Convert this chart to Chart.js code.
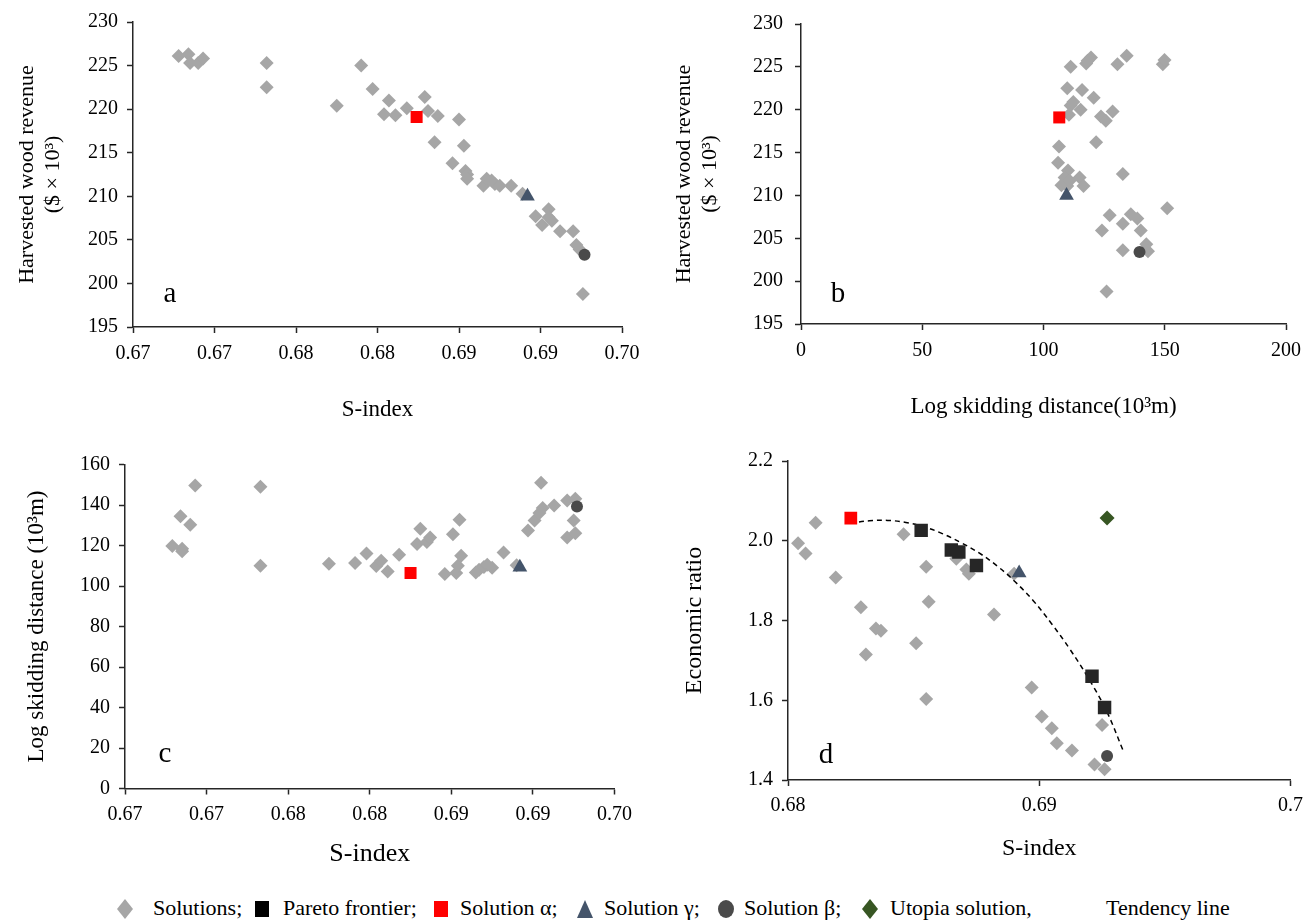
<!DOCTYPE html>
<html>
<head>
<meta charset="utf-8">
<script src="https://cdn.jsdelivr.net/npm/chart.js@4.4.1/dist/chart.umd.min.js"></script>
<style>
  html, body { margin: 0; padding: 0; background: #fff; overflow: hidden; }
  body { width: 1311px; height: 921px; position: relative; font-family: "Liberation Serif", "Times New Roman", serif; color: #000; }
  .panel { position: absolute; }
  .tag { position: absolute; font-size: 29px; line-height: 1; transform: translate(-50%, -50%); }
  .legend { position: absolute; left: 0; top: 894px; width: 1311px; height: 28px; font-size: 22px; }
  .legend span, .legend svg { position: absolute; top: 0; }
  .legend span { line-height: 28px; white-space: nowrap; }
  .legend svg { top: 5px; }
</style>
</head>
<body>
<div id="panels"></div>
<div class="legend" id="legend"></div>
<script>
// ---- data ----
const sIndexTicks = [0.665, 0.67, 0.675, 0.68, 0.685, 0.69, 0.695];
const sIndexTickLabels = ["0.67", "0.67", "0.68", "0.68", "0.69", "0.69", "0.70"];
const revenueTicks = [195, 200, 205, 210, 215, 220, 225, 230];
const skidTicksB = [0, 50, 100, 150, 200];
const skidTicksC = [0, 20, 40, 60, 80, 100, 120, 140, 160];
const ratioTicks = [1.4, 1.6, 1.8, 2.0, 2.2];
const ratioTickLabels = ["1.4", "1.6", "1.8", "2.0", "2.2"];
const sIndexTicksD = [0.68, 0.69, 0.70];
const sIndexTickLabelsD = ["0.68", "0.69", "0.7"];

// panel a: S-index vs revenue
const solutionsA = [
  [0.6678, 226.1], [0.6684, 226.3], [0.6685, 225.3], [0.6690, 225.3], [0.6693, 225.8],
  [0.6732, 225.3], [0.6732, 222.5], [0.6775, 220.4], [0.6790, 225.0], [0.6797, 222.3],
  [0.6807, 221.0], [0.6804, 219.4], [0.6811, 219.3], [0.6818, 220.1], [0.6829, 221.4],
  [0.6831, 219.8], [0.6837, 219.2], [0.6850, 218.8], [0.6835, 216.2], [0.6853, 215.8],
  [0.6846, 213.8], [0.6854, 212.9], [0.6855, 212.5], [0.6855, 212.0], [0.6865, 211.2],
  [0.6867, 212.0], [0.6870, 211.8], [0.6872, 211.4], [0.6875, 211.2], [0.6882, 211.2],
  [0.6889, 210.3], [0.6897, 207.7], [0.6901, 206.7], [0.6905, 208.5], [0.6905, 207.6],
  [0.6907, 207.2], [0.6912, 206.0], [0.6920, 206.0], [0.6922, 204.4], [0.6924, 203.9],
  [0.6926, 198.8],
];
const alphaA = [[0.6824, 219.1]];
const gammaA = [[0.6892, 210.0]];
const betaA = [[0.6927, 203.3]];

// panel b: skidding distance vs revenue
const solutionsB = [
  [111.2, 225.0], [117.6, 225.4], [119.6, 226.1], [118.2, 225.7], [130.5, 225.3],
  [134.3, 226.3], [149.2, 225.3], [149.9, 225.8], [109.8, 222.5], [115.9, 222.3],
  [120.7, 221.4], [112.3, 220.9], [111.2, 220.5], [115.3, 220.0], [110.5, 219.4],
  [123.7, 219.2], [125.7, 218.7], [128.5, 219.8], [121.7, 216.2], [106.4, 215.7],
  [106.0, 213.8], [110.1, 212.9], [108.7, 212.1], [107.4, 211.2], [109.8, 211.1],
  [110.8, 211.7], [114.9, 212.1], [116.5, 211.1], [132.7, 212.5], [127.3, 207.7],
  [136.0, 207.8], [138.7, 207.3], [151.0, 208.5], [132.7, 206.7], [124.1, 205.9],
  [140.1, 205.9], [142.4, 204.3], [143.1, 203.5], [132.7, 203.6], [126.0, 198.8],
];
const alphaB = [[106.5, 219.1]];
const gammaB = [[109.5, 210.0]];
const betaB = [[139.6, 203.4]];

// panel c: S-index vs skidding distance
const solutionsC = [
  [0.6679, 119.7], [0.6684, 134.4], [0.6685, 118.4], [0.6685, 117.1], [0.6690, 130.2],
  [0.6693, 149.6], [0.6733, 149.0], [0.6733, 110.0], [0.6775, 111.0], [0.6791, 111.3],
  [0.6798, 116.1], [0.6804, 109.9], [0.6807, 112.5], [0.6811, 107.1], [0.6818, 115.4],
  [0.6829, 120.7], [0.6831, 128.3], [0.6835, 121.7], [0.6837, 124.0], [0.6846, 105.9],
  [0.6851, 125.6], [0.6853, 106.4], [0.6854, 110.0], [0.6855, 132.7], [0.6856, 114.9],
  [0.6865, 106.7], [0.6867, 108.0], [0.6870, 109.4], [0.6872, 110.5], [0.6875, 109.0],
  [0.6882, 116.6], [0.6890, 110.2], [0.6897, 127.4], [0.6901, 132.4], [0.6904, 136.0],
  [0.6906, 138.5], [0.6905, 151.0], [0.6913, 139.8], [0.6921, 142.2], [0.6926, 143.1],
  [0.6925, 132.4], [0.6921, 124.0], [0.6926, 126.0],
];
const alphaC = [[0.6825, 106.4]];
const gammaC = [[0.6892, 109.2]];
const betaC = [[0.6927, 139.3]];

// panel d: S-index vs economic ratio
const solutionsD = [
  [0.6804, 1.994], [0.6807, 1.968], [0.6811, 2.045], [0.6819, 1.908], [0.6829, 1.833],
  [0.6831, 1.715], [0.6835, 1.780], [0.6837, 1.774], [0.6846, 2.016], [0.6851, 1.743],
  [0.6855, 1.935], [0.6856, 1.847], [0.6855, 1.603], [0.6867, 1.955], [0.6871, 1.928],
  [0.6872, 1.917], [0.6882, 1.815], [0.6890, 1.917], [0.6897, 1.632], [0.6901, 1.559],
  [0.6905, 1.530], [0.6907, 1.492], [0.6913, 1.474], [0.6922, 1.439], [0.6925, 1.538],
  [0.6926, 1.427],
];
const paretoD = [
  [0.6853, 2.026], [0.6865, 1.977], [0.6868, 1.972], [0.6875, 1.938], [0.6921, 1.660],
  [0.6926, 1.582],
];
const alphaD = [[0.6825, 2.057]];
const gammaD = [[0.6892, 1.919]];
const betaD = [[0.6927, 1.460]];
const utopiaD = [[0.6927, 2.057]];
const tendencyD = [
  [0.68247, 2.044], [0.68324, 2.050], [0.68396, 2.051], [0.68469, 2.046], [0.68541, 2.035],
  [0.68614, 2.018], [0.68686, 1.996], [0.68759, 1.970], [0.68832, 1.937], [0.68904, 1.897],
  [0.68977, 1.849], [0.69049, 1.792], [0.69122, 1.728], [0.69194, 1.657], [0.69267, 1.574],
  [0.69335, 1.472],
];

// ---- styling ----
const FONT = "'Liberation Serif', 'Times New Roman', serif";
const AXIS = "#262626";
const GRAY = "#a6a6a6";
const RED = "#ff0000";
const SLATE = "#44546a";
const DARK = "#4a4a4a";
const PARETO = "#262626";
const GREEN = "#375623";

function pts(arr) {
  return arr.map(([x, y]) => ({ x, y }));
}

function markers(label, arr, style, color, radius) {
  return {
    label,
    data: pts(arr),
    pointStyle: style,
    pointRadius: radius,
    pointHoverRadius: radius,
    pointBackgroundColor: color,
    pointBorderColor: color,
    pointBorderWidth: 0,
    showLine: false,
  };
}

function axis(ticks, labels, min, max, title, opts) {
  return {
    type: "linear",
    min,
    max,
    afterBuildTicks: (s) => { s.ticks = ticks.map((v) => ({ value: v })); },
    afterFit: (s) => {
      if (opts.width !== undefined) s.width = opts.width;
      if (opts.height !== undefined) s.height = opts.height;
    },
    border: { display: true, color: AXIS, width: 1.5 },
    grid: { display: true, drawOnChartArea: false, drawTicks: true, tickLength: 6, tickColor: AXIS, tickWidth: 1.5 },
    ticks: {
      color: "#000",
      font: { family: FONT, size: 20 },
      padding: opts.tickPad,
      maxRotation: 0,
      autoSkip: false,
      callback: (v, i) => (labels ? labels[i] : String(ticks[i])),
    },
    title: {
      display: true,
      text: title,
      color: "#000",
      font: { family: FONT, size: opts.titleSize, lineHeight: 1.2 },
      padding: opts.titlePad,
    },
  };
}

// box: target plot area and the canvas rectangle around it, in page pixels
function panel(box, datasets, xScale, yScale) {
  const wrap = document.createElement("div");
  wrap.className = "panel";
  const w = box.canvasRight - box.canvasLeft;
  const h = box.canvasBottom - box.canvasTop;
  wrap.style.left = box.canvasLeft + "px";
  wrap.style.top = box.canvasTop + "px";
  wrap.style.width = w + "px";
  wrap.style.height = h + "px";
  const canvas = document.createElement("canvas");
  canvas.width = w;
  canvas.height = h;
  wrap.appendChild(canvas);
  document.getElementById("panels").appendChild(wrap);

  new Chart(canvas, {
    type: "scatter",
    data: { datasets },
    options: {
      responsive: false,
      animation: false,
      events: [],
      layout: {
        padding: { left: 0, top: box.top - box.canvasTop, right: box.canvasRight - box.right, bottom: 0 },
      },
      plugins: { legend: { display: false }, tooltip: { enabled: false } },
      scales: { x: xScale, y: yScale },
    },
  });
}

function tag(text, x, y) {
  const el = document.createElement("div");
  el.className = "tag";
  el.textContent = text;
  el.style.left = x + "px";
  el.style.top = y + "px";
  document.body.appendChild(el);
}

// panel a
const boxA = { left: 133, top: 22, right: 622, bottom: 327, canvasLeft: 0, canvasTop: 0, canvasRight: 652, canvasBottom: 430 };
panel(
  boxA,
  [
    markers("Solution α", alphaA, "rect", RED, 8.5),
    markers("Solution γ", gammaA, "triangle", SLATE, 8.5),
    markers("Solution β", betaA, "circle", DARK, 6),
    markers("Solutions", solutionsA, "rectRot", GRAY, 7),
  ],
  axis(sIndexTicks, sIndexTickLabels, 0.665, 0.695, "S-index",
    { height: 430 - 327, tickPad: 9, titleSize: 23, titlePad: { top: 0, bottom: 6 } }),
  axis(revenueTicks, null, 195, 230, ["Harvested wood revenue", "($ × 10³)"],
    { width: 133, tickPad: 9, titleSize: 22, titlePad: { top: 14, bottom: 0 } })
);
tag("a", 170, 292);

// panel b
const boxB = { left: 801, top: 19, right: 1290, bottom: 324, canvasLeft: 655, canvasTop: 0, canvasRight: 1310, canvasBottom: 430 };
panel(
  boxB,
  [
    markers("Solution α", alphaB, "rect", RED, 8.5),
    markers("Solution γ", gammaB, "triangle", SLATE, 8.5),
    markers("Solution β", betaB, "circle", DARK, 6),
    markers("Solutions", solutionsB, "rectRot", GRAY, 7),
  ],
  axis(skidTicksB, null, 0, 200, "Log skidding distance(10³m)",
    { height: 430 - 324, tickPad: 9, titleSize: 23, titlePad: { top: 0, bottom: 9 } }),
  axis(revenueTicks, null, 195, 230, ["Harvested wood revenue", "($ × 10³)"],
    { width: 801 - 655, tickPad: 12, titleSize: 22, titlePad: { top: 16, bottom: 0 } })
);
tag("b", 838, 292);

// panel c
const boxC = { left: 125, top: 464.5, right: 614.5, bottom: 788.5, canvasLeft: 0, canvasTop: 440, canvasRight: 645, canvasBottom: 875 };
panel(
  boxC,
  [
    markers("Solution α", alphaC, "rect", RED, 8.5),
    markers("Solution γ", gammaC, "triangle", SLATE, 8.5),
    markers("Solution β", betaC, "circle", DARK, 6),
    markers("Solutions", solutionsC, "rectRot", GRAY, 7),
  ],
  axis(sIndexTicks, sIndexTickLabels, 0.665, 0.695, "S-index",
    { height: 875 - 788.5, tickPad: 8, titleSize: 26, titlePad: { top: 0, bottom: 5 } }),
  axis(skidTicksC, null, 0, 160, "Log skidding distance (10³m)",
    { width: 125, tickPad: 9, titleSize: 23, titlePad: { top: 23, bottom: 0 } })
);
tag("c", 165, 752);

// panel d
const boxD = { left: 788, top: 460, right: 1298, bottom: 780, canvasLeft: 655, canvasTop: 440, canvasRight: 1311, canvasBottom: 875 };
panel(
  boxD,
  [
    markers("Solution α", alphaD, "rect", RED, 9),
    markers("Solution γ", gammaD, "triangle", SLATE, 8.5),
    markers("Solution β", betaD, "circle", DARK, 6),
    markers("Utopia solution", utopiaD, "rectRot", GREEN, 7.5),
    markers("Pareto frontier", paretoD, "rect", PARETO, 9.5),
    {
      label: "Tendency line",
      data: pts(tendencyD),
      showLine: true,
      pointRadius: 0,
      borderColor: "#000",
      borderWidth: 1.5,
      borderDash: [5, 4],
      tension: 0.4,
      fill: false,
    },
    markers("Solutions", solutionsD, "rectRot", GRAY, 7),
  ],
  axis(sIndexTicksD, sIndexTickLabelsD, 0.68, 0.70, "S-index",
    { height: 875 - 780, tickPad: 8, titleSize: 24, titlePad: { top: 0, bottom: 12 } }),
  axis(ratioTicks, ratioTickLabels, 1.4, 2.2, "Economic ratio",
    { width: 788 - 655, tickPad: 9, titleSize: 24, titlePad: { top: 25, bottom: 0 } })
);
tag("d", 826, 753);

// shared legend under the panels
const legendItems = [
  { marker: "diamond", color: GRAY, mx: 125, text: "Solutions;", tx: 153 },
  { marker: "square", color: "#000", mx: 262, text: "Pareto frontier;", tx: 283 },
  { marker: "square", color: RED, mx: 441, text: "Solution α;", tx: 460 },
  { marker: "triangle", color: SLATE, mx: 585, text: "Solution γ;", tx: 604 },
  { marker: "circle", color: DARK, mx: 726, text: "Solution β;", tx: 744 },
  { marker: "diamond", color: GREEN, mx: 870, text: "Utopia solution,", tx: 890 },
  { marker: null, text: "Tendency line", tx: 1106 },
];

function markerSvg(kind, color) {
  const ns = "http://www.w3.org/2000/svg";
  const svg = document.createElementNS(ns, "svg");
  svg.setAttribute("width", "18");
  svg.setAttribute("height", "20");
  let shape;
  if (kind === "diamond") {
    shape = document.createElementNS(ns, "polygon");
    shape.setAttribute("points", "9,0 17,10 9,20 1,10");
  } else if (kind === "square") {
    shape = document.createElementNS(ns, "rect");
    shape.setAttribute("x", "2"); shape.setAttribute("y", "2");
    shape.setAttribute("width", "14"); shape.setAttribute("height", "16");
  } else if (kind === "triangle") {
    shape = document.createElementNS(ns, "polygon");
    shape.setAttribute("points", "9,1 17,19 1,19");
  } else {
    shape = document.createElementNS(ns, "ellipse");
    shape.setAttribute("cx", "9"); shape.setAttribute("cy", "10");
    shape.setAttribute("rx", "8"); shape.setAttribute("ry", "9");
  }
  shape.setAttribute("fill", color);
  svg.appendChild(shape);
  return svg;
}

const legend = document.getElementById("legend");
for (const item of legendItems) {
  if (item.marker) {
    const svg = markerSvg(item.marker, item.color);
    svg.style.left = item.mx - 9 + "px";
    legend.appendChild(svg);
  }
  const span = document.createElement("span");
  span.textContent = item.text;
  span.style.left = item.tx + "px";
  legend.appendChild(span);
}
</script>
</body>
</html>
